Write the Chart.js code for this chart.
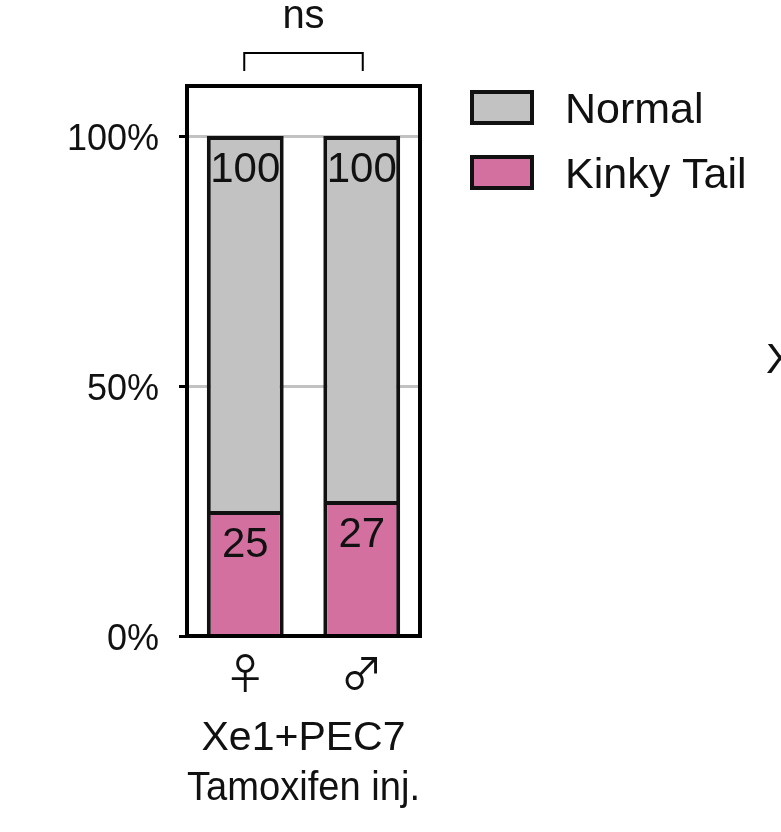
<!DOCTYPE html>
<html>
<head>
<meta charset="utf-8">
<script src="https://cdn.jsdelivr.net/npm/chart.js@4.4.0/dist/chart.umd.min.js"></script>
<style>
  html, body { margin: 0; padding: 0; background: #fff; }
  #wrap { width: 781px; height: 832px; }
</style>
</head>
<body>
<div id="wrap"><canvas id="tail_chart"></canvas></div>
<script>
// data
const categories = ["\u2640", "\u2642"];
const kinkyTail = [25, 27];
const normal = [75, 73];
const yTicks = [0, 50, 100];
const axisTitle = ["Xe1+PEC7", "Tamoxifen inj."];
const sigLabel = "ns";

const FONT = '"Liberation Sans", Arial, "DejaVu Sans", sans-serif';
const SYMBOL_FONT = '"Noto Sans CJK JP", "DejaVu Sans", sans-serif';
const GREY = "#c2c2c2";
const PINK = "#d4709f";

const extras = {
  id: "extras",
  afterDatasetsDraw(chart) {
    const { ctx } = chart;
    const sets = chart.data.datasets;
    ctx.save();
    ctx.font = "42px " + FONT;
    ctx.fillStyle = "#111";
    ctx.textAlign = "center";
    ctx.textBaseline = "alphabetic";
    sets.forEach((ds, i) => {
      chart.getDatasetMeta(i).data.forEach((bar, j) => {
        let total = 0;
        for (let k = 0; k <= i; k++) total += sets[k].data[j];
        ctx.fillText(total, bar.x, bar.y + 46);
      });
    });
    ctx.restore();
  },
  afterDraw(chart) {
    const { ctx, chartArea } = chart;
    const x = chart.scales.x;
    ctx.save();

    // top and right side of the frame
    ctx.strokeStyle = "#000";
    ctx.lineWidth = 4;
    ctx.beginPath();
    ctx.moveTo(chartArea.left, chartArea.top);
    ctx.lineTo(chartArea.right, chartArea.top);
    ctx.lineTo(chartArea.right, chartArea.bottom + 2);
    ctx.stroke();

    // significance bracket
    const x1 = x.getPixelForValue(0) - 1;
    const x2 = x.getPixelForValue(1) + 1;
    ctx.lineWidth = 2;
    ctx.beginPath();
    ctx.moveTo(x1, 71);
    ctx.lineTo(x1, 53);
    ctx.lineTo(x2, 53);
    ctx.lineTo(x2, 71);
    ctx.stroke();
    ctx.fillStyle = "#111";
    ctx.font = "40px " + FONT;
    ctx.textAlign = "center";
    ctx.fillText(sigLabel, (x1 + x2) / 2, 28);

    // legend, Normal first
    ctx.textAlign = "left";
    ctx.font = "43px " + FONT;
    const order = chart.data.datasets.slice().reverse();
    order.forEach((ds, i) => {
      const top = 90 + i * 65;
      ctx.fillStyle = ds.backgroundColor;
      ctx.fillRect(470, top, 64, 35);
      ctx.strokeStyle = "#111";
      ctx.lineWidth = 4;
      ctx.strokeRect(472, top + 2, 60, 31);
      ctx.fillStyle = "#111";
      ctx.fillText(ds.label, 565, top + 33);
    });

    // clipped letter of the neighbouring panel
    ctx.fillText("X", 766, 373);
    ctx.restore();
  }
};

new Chart(document.getElementById("tail_chart"), {
  type: "bar",
  data: {
    labels: categories,
    datasets: [
      {
        label: "Kinky Tail",
        data: kinkyTail,
        backgroundColor: PINK,
        borderColor: "#111",
        borderWidth: 4,
      },
      {
        label: "Normal",
        data: normal,
        backgroundColor: GREY,
        borderColor: "#111",
        borderWidth: 4,
      },
    ],
  },
  options: {
    responsive: true,
    maintainAspectRatio: false,
    animation: false,
    layout: { padding: { top: 86, right: 361, bottom: 0, left: 0 } },
    datasets: { bar: { barPercentage: 0.66, categoryPercentage: 1 } },
    plugins: { legend: { display: false }, tooltip: { enabled: false } },
    scales: {
      x: {
        stacked: true,
        grid: { display: false, drawTicks: false },
        border: { display: true, color: "#000", width: 4, z: 1 },
        ticks: { color: "#111", padding: 12, font: { family: SYMBOL_FONT, size: 42 } },
        title: {
          display: true,
          text: axisTitle,
          color: "#111",
          padding: { top: 0, bottom: 18 },
          font: { family: FONT, size: 41, lineHeight: 1.22 },
        },
        afterFit(scale) { scale.height = 196; },
      },
      y: {
        stacked: true,
        min: 0,
        max: 110,
        afterBuildTicks(scale) { scale.ticks = yTicks.map((v) => ({ value: v })); },
        afterFit(scale) { scale.width = 187; },
        grid: {
          color: (c) => (c.tick && c.tick.value === 0 ? "rgba(0,0,0,0)" : GREY),
          tickColor: "#000",
          lineWidth: 3,
          tickLength: 8,
        },
        border: { display: true, color: "#000", width: 4 },
        ticks: {
          color: "#111",
          padding: 20,
          labelOffset: 4,
          font: { family: FONT, size: 36 },
          callback: (v) => v + "%",
        },
      },
    },
  },
  plugins: [extras],
});
</script>
</body>
</html>
